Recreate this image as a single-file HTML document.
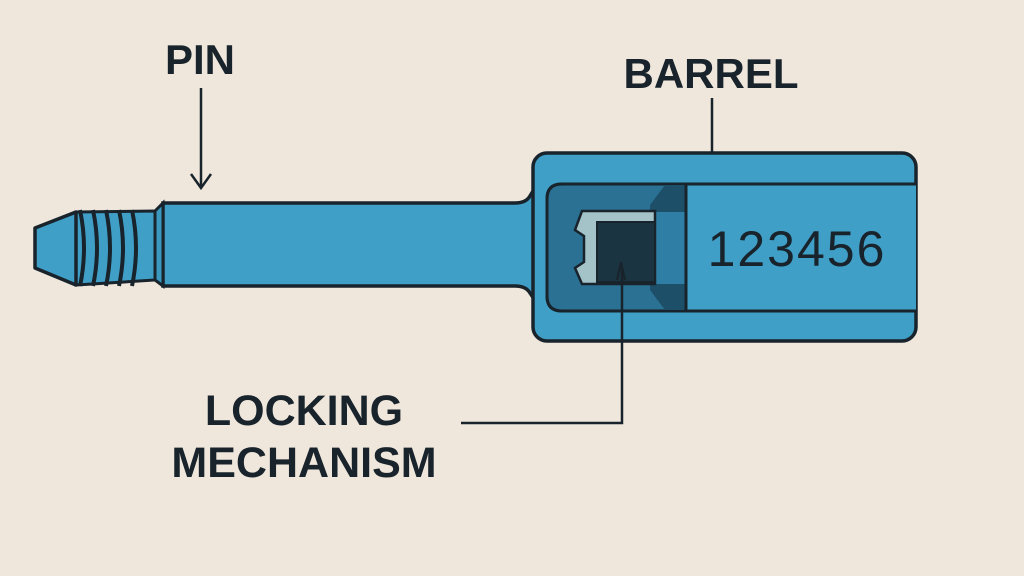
<!DOCTYPE html>
<html><head><style>
body{margin:0;background:#efe7dc;}
svg{display:block}
text{font-family:"Liberation Sans",sans-serif;font-weight:bold;fill:#18232b}
</style></head><body>
<svg width="1024" height="576" viewBox="0 0 1024 576" xmlns="http://www.w3.org/2000/svg">
<rect width="1024" height="576" fill="#efe7dc"/>
<path d="M163,203 L515,203 Q526,203 530,196 L536,186 L536,302 L530,293 Q526,286 515,286 L163,286 Z" fill="#409fc6" stroke="#18232b" stroke-width="3.5"/>
<path d="M155,211 L163,203 L163,286 L155,280 Z" fill="#3b98bf" stroke="#18232b" stroke-width="3"/>
<path d="M76,212 L155,211 L155,280 L76,285 Z" fill="#409fc6" stroke="#18232b" stroke-width="3"/>
<g stroke="#18232b" stroke-width="4" fill="none">
<path d="M80,210 Q88,248 80,286"/><path d="M93,210 Q101,248 93,286"/><path d="M106,210 Q114,248 106,286"/><path d="M119,210 Q127,248 119,286"/><path d="M132,210 Q140,248 132,286"/>
</g>
<path d="M76,212 L35,228 L35,268 L76,285 Z" fill="#409fc6" stroke="#18232b" stroke-width="3.5" stroke-linejoin="round"/>
<rect x="533" y="153" width="383" height="188" rx="14" fill="#409fc6" stroke="#18232b" stroke-width="3.5"/>
<path d="M916,184 L562,184 Q547,184 547,199 L547,296 Q547,311 562,311 L916,311" fill="#409fc6" stroke="#18232b" stroke-width="3"/>
<path d="M562,184 L686,184 L686,311 L562,311 Q547,311 547,296 L547,199 Q547,184 562,184Z" fill="#2a7194" stroke="#18232b" stroke-width="3"/>
<path d="M665,185 L686,185 L686,310 L665,310 L650,290 L650,205Z" fill="#1d4f69"/>
<rect x="655" y="212" width="30" height="72" fill="#2e7ea5"/>
<path d="M582,211 L655,211 L655,284 L582,284 L575,268 L584,262 L584,236 L575,230 Z" fill="#a3c3c9" stroke="#18232b" stroke-width="2.5"/>
<rect x="597" y="222" width="58" height="60" fill="#1b3441" stroke="#18232b" stroke-width="2"/>
<path d="M617,280 L621,262 L625,280" fill="none" stroke="#18232b" stroke-width="2"/>
<line x1="686" y1="184" x2="686" y2="311" stroke="#18232b" stroke-width="3"/>
<text x="797" y="266" font-size="50" text-anchor="middle" letter-spacing="2" style="font-weight:normal">123456</text>
<text x="200" y="74" font-size="42" text-anchor="middle">PIN</text>
<line x1="201" y1="88" x2="201" y2="187" stroke="#18232b" stroke-width="2.5"/>
<path d="M191,174 L201,188 L211,174" fill="none" stroke="#18232b" stroke-width="2.5"/>
<text x="711" y="88" font-size="42" text-anchor="middle">BARREL</text>
<line x1="712" y1="98" x2="712" y2="153" stroke="#18232b" stroke-width="2.5"/>
<text x="304" y="425" font-size="43" text-anchor="middle">LOCKING</text>
<text x="304" y="477" font-size="43" text-anchor="middle">MECHANISM</text>
<path d="M461,423 L622,423 L622,268" fill="none" stroke="#18232b" stroke-width="2.5"/>
</svg>
</body></html>
